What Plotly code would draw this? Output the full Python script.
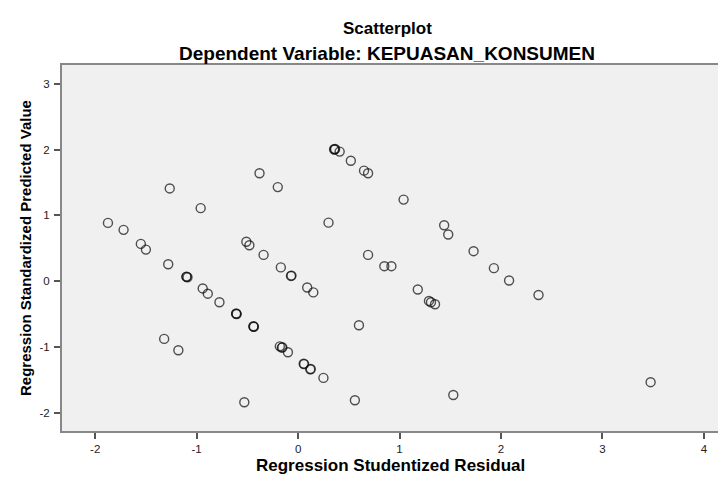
import plotly.graph_objects as go

# Regression Studentized Residual (x) and Regression Standardized Predicted Value (y)
residual = [
    -1.874, -1.72, -1.55, -1.50, -1.265, -0.96, -1.28,
    -1.10, -1.10, -1.09, -0.94, -0.89, -0.775,
    -0.61, -0.61, -0.605, -0.44, -0.44, -0.435,
    -1.32, -1.18, -0.51, -0.48, -0.34, -0.38, -0.20,
    -0.17, -0.07, -0.065, 0.09, 0.15,
    -0.18, -0.16, -0.155, -0.10, 0.055, 0.06, 0.12, 0.125, 0.25,
    -0.53, 0.56, 0.60, 0.30,
    0.355, 0.36, 0.365, 0.41, 0.52, 0.65, 0.69, 0.69,
    1.04, 0.85, 0.92, 1.18, 1.44, 1.48, 1.73, 1.93, 2.08, 2.37,
    1.29, 1.31, 1.35, 3.475, 1.53,
]
predicted = [
    0.886, 0.78, 0.567, 0.48, 1.41, 1.11, 0.258,
    0.065, 0.07, 0.06, -0.11, -0.19, -0.32,
    -0.497, -0.49, -0.50, -0.69, -0.685, -0.695,
    -0.877, -1.05, 0.60, 0.547, 0.40, 1.64, 1.43,
    0.21, 0.08, 0.085, -0.096, -0.17,
    -0.99, -1.01, -1.005, -1.08, -1.255, -1.26, -1.34, -1.335, -1.47,
    -1.84, -1.81, -0.67, 0.89,
    2.006, 2.0, 2.01, 1.97, 1.83, 1.68, 1.64, 0.40,
    1.24, 0.228, 0.228, -0.126, 0.85, 0.71, 0.456, 0.198, 0.01, -0.21,
    -0.30, -0.32, -0.35, -1.535, -1.73,
]

x_ticks = [-2, -1, 0, 1, 2, 3, 4]
y_ticks = [-2, -1, 0, 1, 2, 3]

title_main = "Scatterplot"
title_sub = "Dependent Variable: KEPUASAN_KONSUMEN"
x_title = "Regression Studentized Residual"
y_title = "Regression Standardized Predicted Value"

FONT = "Liberation Sans, Arial, sans-serif"

fig = go.Figure()
fig.add_trace(go.Scatter(
    x=residual, y=predicted, mode="markers",
    marker=dict(symbol="circle-open", size=9, color="rgba(15,15,15,0.72)",
                line=dict(width=1.4, color="rgba(15,15,15,0.72)")),
    hoverinfo="x+y", showlegend=False,
))

# the page body adds an 8px offset; the figure is sized to fill the rest of the window
fig.update_layout(
    width=718, height=469,
    margin=dict(l=54, r=0, t=57, b=46, autoexpand=False),
    paper_bgcolor="white",
    plot_bgcolor="#F0F0F0",
    font=dict(family=FONT, color="#000000"),
    annotations=[
        dict(text="<b>" + title_main + "</b>", xref="paper", yref="paper",
             x=0.49, y=1, yshift=37, xanchor="center", yanchor="middle",
             showarrow=False, font=dict(size=17, family=FONT)),
        dict(text="<b>" + title_sub + "</b>", xref="paper", yref="paper",
             x=0.49, y=1, yshift=12, xanchor="center", yanchor="middle",
             showarrow=False, font=dict(size=19, family=FONT)),
        dict(text="<b>" + x_title + "</b>", xref="paper", yref="paper",
             x=0.495, y=0, yshift=-34, xanchor="center", yanchor="middle",
             showarrow=False, font=dict(size=17, family=FONT)),
        dict(text="<b>" + y_title + "</b>", xref="paper", yref="paper",
             x=0, y=0.5, xshift=-37, xanchor="center", yanchor="middle",
             textangle=-90, showarrow=False, font=dict(size=15, family=FONT)),
    ],
)

fig.update_xaxes(
    range=[-2.327, 4.218], tickvals=x_ticks, ticktext=[str(t) for t in x_ticks],
    showgrid=False, zeroline=False,
    showline=True, linecolor="#888888", linewidth=2, mirror=True,
    ticks="outside", ticklen=6, tickwidth=1.5, tickcolor="#555555",
    tickfont=dict(size=11.5, family=FONT, color="#222222"),
)
fig.update_yaxes(
    range=[-2.277, 3.286], tickvals=y_ticks, ticktext=[str(t) for t in y_ticks],
    showgrid=False, zeroline=False,
    showline=True, linecolor="#888888", linewidth=2,
    ticks="outside", ticklen=6, tickwidth=1.5, tickcolor="#555555",
    ticklabelstandoff=2,
    tickfont=dict(size=11.5, family=FONT, color="#222222"),
)

fig.write_html("out.html")
